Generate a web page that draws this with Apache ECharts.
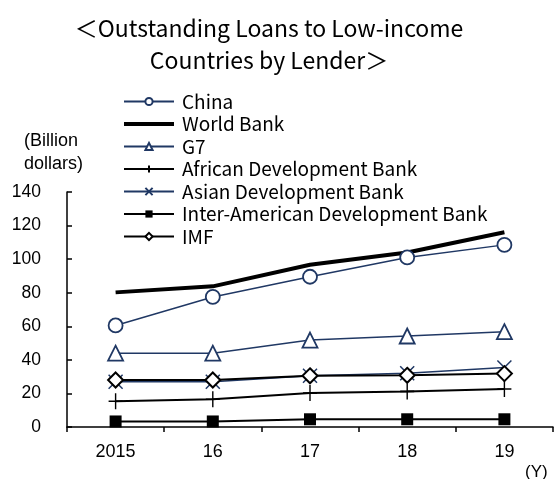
<!DOCTYPE html>
<html>
<head>
<meta charset="utf-8">
<script src="https://cdn.jsdelivr.net/npm/echarts@6/dist/echarts.min.js"></script>
<style>html,body{margin:0;padding:0;background:#fff}#c{width:555px;height:479px}</style>
</head>
<body>
<div id="c"></div>
<script>
const years = ['2015', '16', '17', '18', '19'];
const china = [60.5, 77.5, 89.5, 101, 108.5];
const worldBank = [80.2, 83.8, 96.7, 104, 116];
const g7 = [44, 44, 51.8, 54.2, 56.8];
const afdb = [15.3, 16.5, 20.2, 21.2, 22.6];
const adb = [27, 27, 30.5, 32, 35.5];
const iadb = [3.3, 3.3, 4.6, 4.6, 4.6];
const imf = [28, 28, 30.5, 30.8, 31.8];
const yTicks = { min: 0, max: 140, step: 20 };

const NAVY = '#203864';
const legendFont = 'Noto Sans CJK JP';
const chart = echarts.init(document.getElementById('c'), null, { renderer: 'canvas' });

function lineSeries(name, data, color, width, symbol, size, fill, border, bw) {
  return {
    name, type: 'line', data,
    symbol, symbolSize: size,
    lineStyle: { color, width },
    itemStyle: { color: fill, borderColor: border, borderWidth: bw },
    emphasis: { disabled: true },
    animation: false
  };
}

chart.setOption({
  animation: false,
  backgroundColor: '#fff',
  graphic: [
    { type: 'text', x: 269, y: 12,
      style: { text: '＜Outstanding Loans to Low-income\nCountries by Lender＞', font: '23px "Noto Sans CJK JP"', fill: '#000', textAlign: 'center', lineHeight: 32 } },
    { type: 'text', left: 24, top: 130,
      style: { text: '(Billion\ndollars)', font: '18px "Liberation Sans", Arial', fill: '#000', lineHeight: 23 } },
    { type: 'text', left: 525, top: 464,
      style: { text: '(Y)', font: '17px "Liberation Sans", Arial', fill: '#000' } }
  ],
  legend: {
    orient: 'vertical', left: 123, top: 92, padding: 0,
    itemWidth: 50, itemHeight: 9, itemGap: 3.5,
    textStyle: { fontFamily: legendFont, fontSize: 19, color: '#000', lineHeight: 18.5, padding: [0, 0, 0, 3] },
    data: [
      { name: 'China' },
      { name: 'World Bank', icon: 'path://M0,0L50,0L50,4L0,4Z', itemStyle: { color: '#000' } },
      { name: 'G7' },
      { name: 'African Development Bank' },
      { name: 'Asian Development Bank' },
      { name: 'Inter-American Development Bank' },
      { name: 'IMF' }
    ]
  },
  grid: { left: 67, right: 2, top: 192, bottom: 52, containLabel: false },
  xAxis: {
    type: 'category', data: years, boundaryGap: true,
    axisLine: { lineStyle: { color: '#000', width: 1.5 } },
    axisTick: { show: true, inside: false, length: 5, interval: 0, lineStyle: { color: '#000', width: 1.5 } },
    axisLabel: { fontFamily: '"Liberation Sans", Arial', fontSize: 18, color: '#000', margin: 16 },
    splitLine: { show: false }
  },
  yAxis: {
    type: 'value', min: yTicks.min, max: yTicks.max, interval: yTicks.step,
    axisLine: { show: true, lineStyle: { color: '#000', width: 1.5 } },
    axisTick: { show: true, inside: true, length: 5, lineStyle: { color: '#000', width: 1.5 } },
    axisLabel: { fontFamily: '"Liberation Sans", Arial', fontSize: 17.5, color: '#000', margin: 26 },
    splitLine: { show: false }
  },
  series: [
    lineSeries('China', china, NAVY, 1.5, 'circle', 14, '#fff', NAVY, 1.8),
    Object.assign(lineSeries('World Bank', worldBank, '#000', 4, 'none', 0, '#000', '#000', 0), { showSymbol: false }),
    lineSeries('G7', g7, NAVY, 1.5, 'triangle', 15, '#fff', NAVY, 1.8),
    lineSeries('African Development Bank', afdb, '#000', 2, 'path://M7,0L7,16M0,8L14,8', [14, 16], '#000', '#000', 1.5),
    lineSeries('Asian Development Bank', adb, NAVY, 1.5, 'path://M0,0L14,14M14,0L0,14', 14, NAVY, NAVY, 1.5),
    lineSeries('Inter-American Development Bank', iadb, '#000', 2, 'rect', 12, '#000', '#000', 0),
    lineSeries('IMF', imf, '#000', 2, 'diamond', 15, '#fff', '#000', 2)
  ]
});
</script>
</body>
</html>
